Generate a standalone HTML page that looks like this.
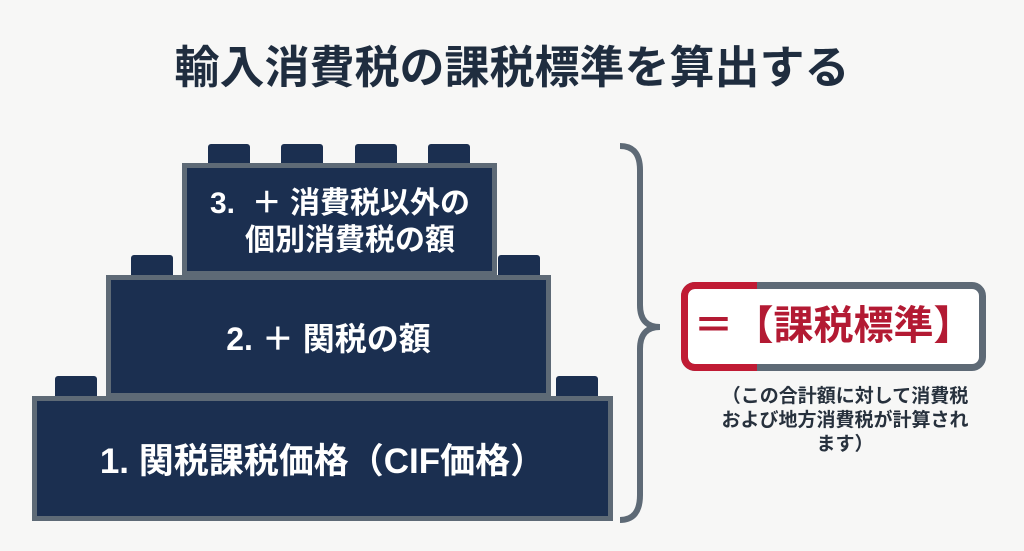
<!DOCTYPE html>
<html><head><meta charset="utf-8"><style>
*{margin:0;padding:0;box-sizing:border-box}
body{width:1024px;height:551px;background:#f7f7f6;position:relative;overflow:hidden;font-family:"Liberation Sans","Noto Sans CJK JP",sans-serif;font-weight:bold}
.a{position:absolute;white-space:nowrap}
.blk{position:absolute;background:#1b2f50;border:5px solid #5e6a76;color:#fff;display:flex;align-items:center;justify-content:center;text-align:left}
.stud{position:absolute;background:#1b2f50;border-radius:3px 3px 0 0;width:42px}
</style></head><body>
<div class="a" style="left:0;top:40px;width:1024px;text-align:center;font-size:45px;color:#1f2d3f;line-height:56px">輸入消費税の課税標準を算出する</div>

<div class="stud" style="left:208px;top:144px;height:21px"></div>
<div class="stud" style="left:281px;top:144px;height:21px"></div>
<div class="stud" style="left:355px;top:144px;height:21px"></div>
<div class="stud" style="left:428px;top:144px;height:21px"></div>
<div class="stud" style="left:131px;top:255px;height:24px"></div>
<div class="stud" style="left:498px;top:255px;height:24px"></div>
<div class="stud" style="left:55px;top:376px;height:24px"></div>
<div class="stud" style="left:556px;top:376px;height:24px"></div>

<div class="blk" style="left:182px;top:163px;width:315px;height:113px"></div>
<div class="a" style="left:210px;top:186px;font-size:30px;line-height:36px;color:#fff">3.&nbsp;&nbsp;＋ 消費税以外の</div>
<div class="a" style="left:245px;top:223px;font-size:30px;line-height:36px;color:#fff">個別消費税の額</div>
<div class="blk" style="left:106px;top:275px;width:445px;height:123px;font-size:32px">2. ＋ 関税の額</div>
<div class="blk" style="left:32px;top:396px;width:581px;height:125px;font-size:35px">1. 関税課税価格（CIF価格）</div>

<svg class="a" style="left:600px;top:140px" width="80" height="390">
<path d="M20 6 Q40 6 40 30 L40 165 Q40 187 60 187 Q40 187 40 209 L40 355 Q40 380 20 380" fill="none" stroke="#5e6a76" stroke-width="6"/>
</svg>

<div class="a" style="left:681px;top:282px;width:305px;height:89px;border:7px solid #5e6a76;border-radius:14px;background:#fff"></div>
<div class="a" style="left:681px;top:282px;width:76px;height:89px;border:7px solid #c01b34;border-right:none;border-radius:14px 0 0 14px"></div>
<div class="a" style="left:681px;top:282px;width:305px;height:89px;text-align:center;line-height:89px;font-size:40px;color:#b31a33">＝【課税標準】</div>

<div class="a" style="left:690px;top:385px;width:310px;text-align:center;font-size:19px;line-height:24px;color:#27313d">（この合計額に対して消費税<br>および地方消費税が計算され<br>ます）</div>
</body></html>
